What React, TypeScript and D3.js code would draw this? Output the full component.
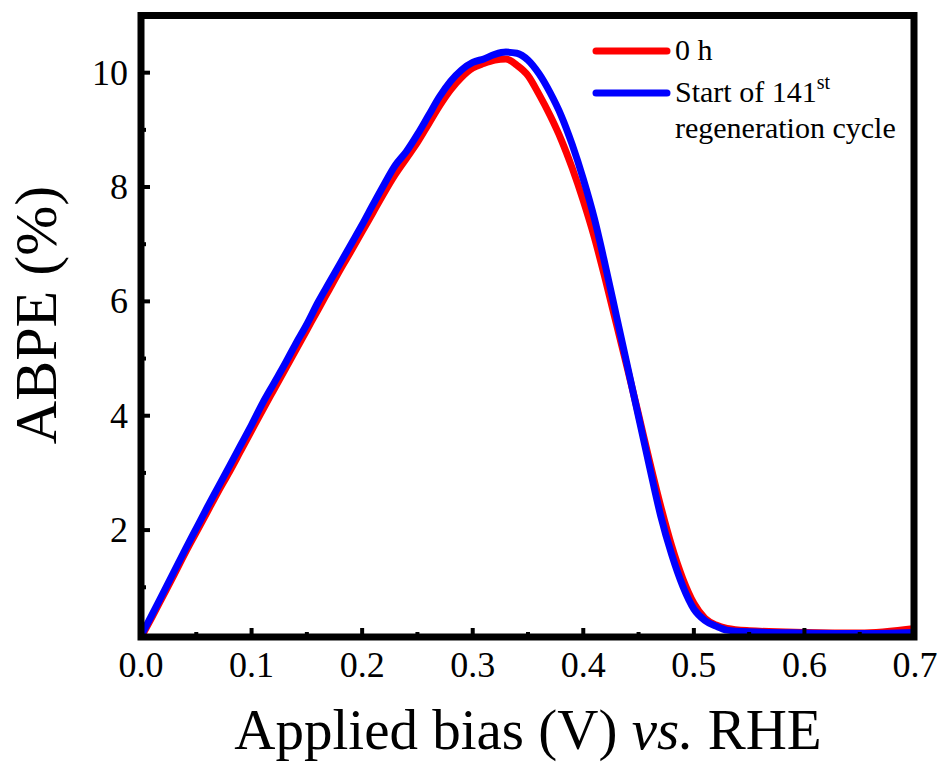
import React from "react";
import * as d3 from "d3";

const xTicks = [0, 0.1, 0.2, 0.3, 0.4, 0.5, 0.6, 0.7];
const xMinor = [0.05, 0.15, 0.25, 0.35, 0.45, 0.55, 0.65];
const yTicks = [2, 4, 6, 8, 10];
const yMinor = [1, 3, 5, 7, 9];

const biasX = [
  0.0, 0.01, 0.02, 0.03, 0.04, 0.05, 0.06, 0.07, 0.08, 0.09, 0.1, 0.11, 0.12, 0.13, 0.14, 0.15, 0.16, 0.17, 0.18,
  0.19, 0.2, 0.21, 0.22, 0.23, 0.24, 0.25, 0.26, 0.27, 0.28, 0.29, 0.3, 0.31, 0.32, 0.33, 0.34, 0.35, 0.36, 0.37,
  0.38, 0.39, 0.4, 0.41, 0.42, 0.43, 0.44, 0.45, 0.46, 0.47, 0.48, 0.49, 0.5, 0.51, 0.52, 0.53, 0.55, 0.6, 0.65, 0.7,
];

const abpe0h = [
  0.12, 0.48, 0.85, 1.22, 1.6, 1.96, 2.32, 2.68, 3.02, 3.38, 3.74, 4.1, 4.45, 4.8, 5.15, 5.5, 5.85, 6.2, 6.55,
  6.88, 7.22, 7.56, 7.9, 8.22, 8.5, 8.78, 9.1, 9.42, 9.7, 9.92, 10.08, 10.16, 10.22, 10.24, 10.13, 9.95, 9.62, 9.25,
  8.83, 8.33, 7.76, 7.12, 6.38, 5.6, 4.82, 4.02, 3.2, 2.42, 1.72, 1.15, 0.72, 0.46, 0.34, 0.28, 0.24, 0.21, 0.2, 0.28,
];

const abpe141 = [
  0.15, 0.52, 0.9, 1.28, 1.66, 2.03, 2.4, 2.76, 3.12, 3.48, 3.84, 4.22, 4.56, 4.9, 5.26, 5.6, 5.98, 6.32, 6.66,
  7.0, 7.34, 7.7, 8.05, 8.38, 8.62, 8.92, 9.25, 9.58, 9.85, 10.05, 10.18, 10.24, 10.32, 10.36, 10.34, 10.22, 9.98, 9.65,
  9.25, 8.74, 8.14, 7.45, 6.62, 5.74, 4.86, 3.98, 3.1, 2.25, 1.57, 1.02, 0.62, 0.42, 0.32, 0.25, 0.22, 0.2, 0.19, 0.21,
];

const W = 943;
const H = 763;
const L = 141;
const R = 915;
const T = 15.5;
const B = 637;

export default function App() {
  const x = d3.scaleLinear().domain([0, 0.7]).range([L, R]);
  const y = d3.scaleLinear().domain([0.13, 11]).range([B, T]);
  const line = d3
    .line<number>()
    .x((_, i) => x(biasX[i]))
    .y((d) => y(d))
    .curve(d3.curveMonotoneX);

  const font = "'Liberation Serif', 'Times New Roman', serif";

  return (
    <svg
      width={W}
      height={H}
      style={{ position: "absolute", left: 0, top: 0, background: "#fff" }}
      fontFamily={font}
    >
      <rect x={0} y={0} width={W} height={H} fill="#fff" />
      {/* curves */}
      <path d={line(abpe0h) || ""} fill="none" stroke="#ff0000" strokeWidth={7} strokeLinejoin="round" />
      <path d={line(abpe141) || ""} fill="none" stroke="#0000ff" strokeWidth={7} strokeLinejoin="round" />

      {/* ticks */}
      {xTicks.slice(1, -1).map((t) => (
        <line key={"xt" + t} x1={x(t)} x2={x(t)} y1={B} y2={B - 9} stroke="#000" strokeWidth={4} />
      ))}
      {xMinor.map((t) => (
        <line key={"xm" + t} x1={x(t)} x2={x(t)} y1={B} y2={B - 5} stroke="#000" strokeWidth={4} />
      ))}
      {yTicks.map((t) => (
        <line key={"yt" + t} x1={L} x2={L + 9} y1={y(t)} y2={y(t)} stroke="#000" strokeWidth={4} />
      ))}
      {yMinor.map((t) => (
        <line key={"ym" + t} x1={L} x2={L + 5} y1={y(t)} y2={y(t)} stroke="#000" strokeWidth={4} />
      ))}

      {/* frame */}
      <rect x={L} y={T} width={R - L - 1} height={B - T} fill="none" stroke="#000" strokeWidth={7} />

      {/* tick labels */}
      {xTicks.map((t) => (
        <text key={"xl" + t} x={x(t)} y={677} textAnchor="middle" fontSize={36} fill="#000">
          {d3.format(".1f")(t)}
        </text>
      ))}
      {yTicks.map((t) => (
        <text key={"yl" + t} x={128} y={y(t) + 12} textAnchor="end" fontSize={36} fill="#000">
          {t}
        </text>
      ))}

      {/* axis titles */}
      <text x={528} y={749} textAnchor="middle" fontSize={57} fill="#000">
        Applied bias (V) <tspan fontStyle="italic">vs.</tspan> RHE
      </text>
      <text
        transform={`translate(56, 315) rotate(-90)`}
        textAnchor="middle"
        fontSize={60}
        fill="#000"
      >
        ABPE (%)
      </text>

      {/* legend */}
      <line x1={596} x2={667} y1={51} y2={51} stroke="#ff0000" strokeWidth={7} strokeLinecap="round" />
      <line x1={596} x2={667} y1={93} y2={93} stroke="#0000ff" strokeWidth={7} strokeLinecap="round" />
      <text x={675} y={60} fontSize={30} fill="#000">
        0 h
      </text>
      <text x={675} y={102} fontSize={30} fill="#000">
        Start of 141
        <tspan fontSize={20} dy={-13}>
          st
        </tspan>
      </text>
      <text x={675} y={138} fontSize={30} fill="#000">
        regeneration cycle
      </text>
    </svg>
  );
}
